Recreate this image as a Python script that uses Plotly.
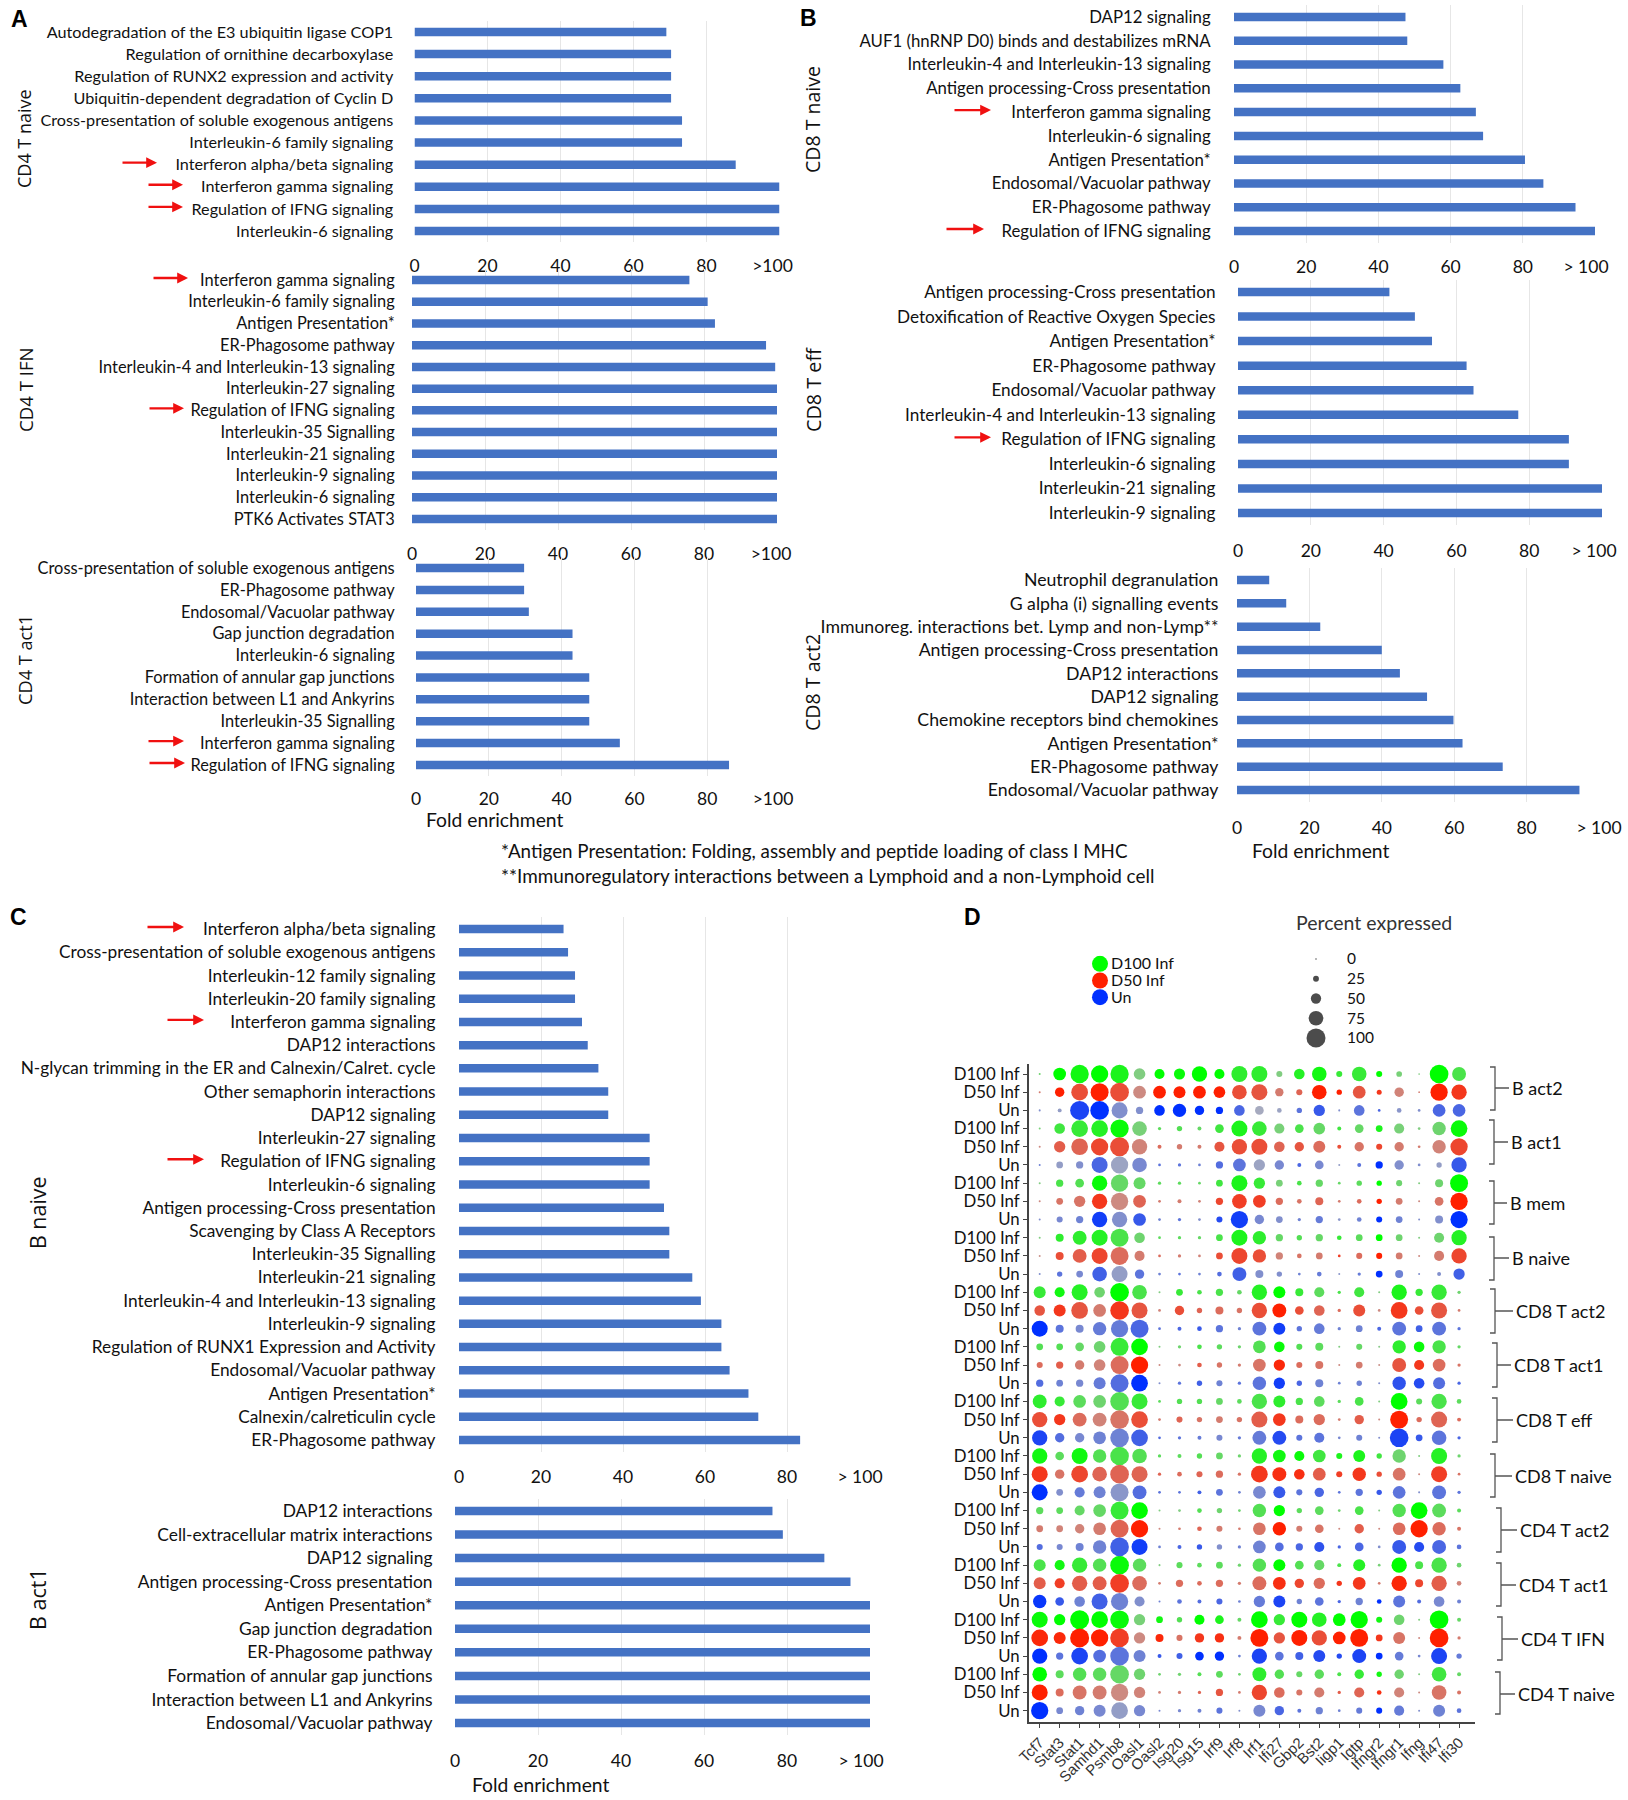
import plotly.graph_objects as go

W, H = 1628, 1800

# ---------- Bar panel data (top to bottom) ----------
a1_terms = ["Autodegradation of the E3 ubiquitin ligase COP1", "Regulation of ornithine decarboxylase", "Regulation of RUNX2 expression and activity", "Ubiquitin-dependent degradation of Cyclin D", "Cross-presentation of soluble exogenous antigens", "Interleukin-6 family signaling", "Interferon alpha/beta signaling", "Interferon gamma signaling", "Regulation of IFNG signaling", "Interleukin-6 signaling"]
a1_vals = [69, 70.3, 70.3, 70.3, 73.3, 73.3, 88, 100, 100, 100]
a2_terms = ["Interferon gamma signaling", "Interleukin-6 family signaling", "Antigen Presentation*", "ER-Phagosome pathway", "Interleukin-4 and Interleukin-13 signaling", "Interleukin-27 signaling", "Regulation of IFNG signaling", "Interleukin-35 Signalling", "Interleukin-21 signaling", "Interleukin-9 signaling", "Interleukin-6 signaling", "PTK6 Activates STAT3"]
a2_vals = [76, 81, 83, 97, 99.5, 100, 100, 100, 100, 100, 100, 100]
a3_terms = ["Cross-presentation of soluble exogenous antigens", "ER-Phagosome pathway", "Endosomal/Vacuolar pathway", "Gap junction degradation", "Interleukin-6 signaling", "Formation of annular gap junctions", "Interaction between L1 and Ankyrins", "Interleukin-35 Signalling", "Interferon gamma signaling", "Regulation of IFNG signaling"]
a3_vals = [29.7, 29.7, 31, 43, 43, 47.6, 47.6, 47.6, 56, 86]
b1_terms = ["DAP12 signaling", "AUF1 (hnRNP D0) binds and destabilizes mRNA", "Interleukin-4 and Interleukin-13 signaling", "Antigen processing-Cross presentation", "Interferon gamma signaling", "Interleukin-6 signaling", "Antigen Presentation*", "Endosomal/Vacuolar pathway", "ER-Phagosome pathway", "Regulation of IFNG signaling"]
b1_vals = [47.5, 48, 58, 62.7, 67, 69, 80.6, 85.7, 94.6, 100]
b2_terms = ["Antigen processing-Cross presentation", "Detoxification of Reactive Oxygen Species", "Antigen Presentation*", "ER-Phagosome pathway", "Endosomal/Vacuolar pathway", "Interleukin-4 and Interleukin-13 signaling", "Regulation of IFNG signaling", "Interleukin-6 signaling", "Interleukin-21 signaling", "Interleukin-9 signaling"]
b2_vals = [41.6, 48.6, 53.3, 62.8, 64.7, 77, 90.9, 90.9, 100, 100]
b3_terms = ["Neutrophil degranulation", "G alpha (i) signalling events", "Immunoreg. interactions bet. Lymp and non-Lymp**", "Antigen processing-Cross presentation", "DAP12 interactions", "DAP12 signaling", "Chemokine receptors bind chemokines", "Antigen Presentation*", "ER-Phagosome pathway", "Endosomal/Vacuolar pathway"]
b3_vals = [8.9, 13.6, 23, 40, 45, 52.5, 59.8, 62.3, 73.4, 94.6]
c1_terms = ["Interferon alpha/beta signaling", "Cross-presentation of soluble exogenous antigens", "Interleukin-12 family signaling", "Interleukin-20 family signaling", "Interferon gamma signaling", "DAP12 interactions", "N-glycan trimming in the ER and Calnexin/Calret. cycle", "Other semaphorin interactions", "DAP12 signaling", "Interleukin-27 signaling", "Regulation of IFNG signaling", "Interleukin-6 signaling", "Antigen processing-Cross presentation", "Scavenging by Class A Receptors", "Interleukin-35 Signalling", "Interleukin-21 signaling", "Interleukin-4 and Interleukin-13 signaling", "Interleukin-9 signaling", "Regulation of RUNX1 Expression and Activity", "Endosomal/Vacuolar pathway", "Antigen Presentation*", "Calnexin/calreticulin cycle", "ER-Phagosome pathway"]
c1_vals = [25.5, 26.6, 28.3, 28.3, 30, 31.4, 34, 36.4, 36.4, 46.5, 46.5, 46.5, 50, 51.3, 51.3, 56.9, 59, 64, 64, 66, 70.6, 73, 83.2]
c2_terms = ["DAP12 interactions", "Cell-extracellular matrix interactions", "DAP12 signaling", "Antigen processing-Cross presentation", "Antigen Presentation*", "Gap junction degradation", "ER-Phagosome pathway", "Formation of annular gap junctions", "Interaction between L1 and Ankyrins", "Endosomal/Vacuolar pathway"]
c2_vals = [76.5, 79, 89, 95.3, 100, 100, 100, 100, 100, 100]
fold_ticks = [0, 20, 40, 60, 80, 100]

# ---------- Dot plot data ----------
genes = ["Tcf7", "Stat3", "Stat1", "Samhd1", "Psmb8", "Oasl1", "Oasl2", "Isg20", "Isg15", "Irf9", "Irf8", "Irf1", "Ifi27", "Gbp2", "Bst2", "Iigp1", "Igtp", "Ifngr2", "Ifngr1", "Ifng", "Ifi47", "Ifi30"]
cell_types = ["B act2", "B act1", "B mem", "B naive", "CD8 T act2", "CD8 T act1", "CD8 T eff", "CD8 T naive", "CD4 T act2", "CD4 T act1", "CD4 T IFN", "CD4 T naive"]
conditions = ["D100 Inf", "D50 Inf", "Un"]
pct_ticks = [0, 25, 50, 75, 100]

# percent expressed (p) and scaled colour level (t) per row
p_b_act2_d100 = [3,64,96,90,96,58,49,55,79,49,83,83,26,52,75,26,75,26,24,1,98,71]
t_b_act2_d100 = [40,100,90,100,85,30,100,95,100,100,75,75,30,80,90,70,70,100,35,30,100,60]
p_b_act2_d50 = [3,45,87,94,98,64,64,60,64,58,75,83,39,26,75,22,64,20,45,1,90,79]
t_b_act2_d50 = [40,100,70,100,70,30,100,100,100,100,70,65,40,55,100,100,65,85,35,40,100,85]
p_b_act2_un = [3,14,100,98,83,33,52,68,45,33,52,41,18,22,56,3,52,7,18,7,64,64]
t_b_act2_un = [30,20,85,100,30,30,100,100,100,100,60,10,15,50,70,30,50,60,25,30,60,60]

p_b_act1_d100 = [3,52,87,87,96,75,10,22,14,41,83,75,49,41,58,14,41,30,49,7,68,87]
t_b_act1_d100 = [35,65,70,80,95,35,50,55,45,65,85,70,35,60,45,65,45,85,35,30,40,95]
p_b_act1_d50 = [3,56,87,90,100,79,14,22,14,49,79,83,52,45,60,14,45,26,45,7,68,90]
t_b_act1_d50 = [30,60,55,75,70,35,50,40,40,65,70,70,55,65,50,70,45,75,40,40,35,75]
p_b_act1_un = [3,30,33,83,90,75,7,10,7,33,64,56,45,14,41,3,14,33,45,7,22,79]
t_b_act1_un = [40,20,30,60,15,35,50,50,40,55,50,15,35,60,35,20,50,100,30,30,20,70]

p_b_mem_d100 = [3,33,41,79,90,60,10,10,7,30,83,56,30,18,33,7,22,22,26,3,37,94]
t_b_mem_d100 = [30,60,55,95,45,45,50,50,45,65,85,70,35,60,45,45,50,100,40,30,40,100]
p_b_mem_d50 = [3,30,56,79,90,64,7,14,7,33,75,64,33,18,37,7,18,22,30,3,41,90]
t_b_mem_d50 = [30,45,45,85,30,55,40,40,35,75,80,80,50,45,55,40,50,100,40,30,45,100]
p_b_mem_un = [3,26,33,79,79,64,7,10,7,26,90,45,30,10,33,7,18,26,30,3,37,90]
t_b_mem_un = [30,35,40,90,30,70,40,50,30,80,90,35,30,40,45,25,40,100,40,30,30,100]

p_b_naive_d100 = [3,37,71,83,94,52,7,10,10,30,83,68,33,22,33,18,30,30,30,3,49,79]
t_b_naive_d100 = [30,75,75,80,60,40,50,50,45,60,85,75,45,55,45,70,50,100,40,30,40,80]
p_b_naive_d50 = [3,37,71,83,94,49,7,10,7,30,83,68,33,18,30,7,26,26,30,3,49,79]
t_b_naive_d50 = [25,70,60,75,50,40,50,40,35,70,75,70,35,45,40,80,50,100,40,30,40,75]
p_b_naive_un = [3,22,30,75,83,45,7,7,7,18,71,37,22,7,18,3,10,30,37,3,14,56]
t_b_naive_un = [30,50,35,65,20,50,40,50,40,55,65,30,30,40,45,25,45,100,40,30,30,65]

p_cd8_act2_d100 = [60,49,83,52,98,75,3,30,18,33,18,79,60,37,49,10,49,3,79,33,79,10]
t_cd8_act2_d100 = [70,90,80,40,100,60,30,70,60,60,45,80,100,70,50,60,65,30,85,70,70,40]
p_cd8_act2_d50 = [52,60,87,64,98,83,7,45,22,37,22,79,71,41,52,10,60,7,87,41,83,7]
t_cd8_act2_d50 = [65,85,65,40,85,65,35,70,55,50,45,70,100,70,55,50,70,30,85,70,65,40]
p_cd8_act2_un = [83,37,37,68,90,94,7,14,18,33,10,71,60,22,52,10,30,14,71,30,71,10]
t_cd8_act2_un = [100,50,35,45,45,60,50,60,70,50,40,50,90,50,45,40,40,60,50,65,50,50]

p_cd8_act1_d100 = [30,30,41,58,94,87,3,10,18,22,10,64,52,26,37,3,26,3,68,52,68,10]
t_cd8_act1_d100 = [55,55,45,40,70,100,30,40,60,50,40,55,95,55,50,30,45,25,75,95,60,45]
p_cd8_act1_d50 = [26,33,45,58,94,90,3,7,18,22,10,64,56,26,37,3,30,3,71,49,64,10]
t_cd8_act1_d50 = [50,60,40,35,50,100,30,30,60,45,40,45,95,50,45,30,40,25,65,85,50,45]
p_cd8_act1_un = [33,30,33,60,94,87,3,10,22,26,10,68,56,22,37,7,22,3,68,52,60,10]
t_cd8_act1_un = [55,40,35,45,55,100,30,50,65,40,50,50,90,60,40,40,40,30,75,80,55,60]

p_cd8_eff_d100 = [71,49,64,64,98,83,7,22,22,30,18,79,60,33,52,10,41,3,87,26,79,18]
t_cd8_eff_d100 = [75,70,50,40,55,70,50,55,55,45,50,60,75,60,50,50,60,30,100,50,60,50]
p_cd8_eff_d50 = [79,56,71,71,98,87,7,26,22,30,22,83,64,37,56,7,45,3,94,22,83,14]
t_cd8_eff_d50 = [70,85,50,35,45,70,40,55,45,40,45,60,85,50,50,40,60,30,100,50,55,50]
p_cd8_eff_un = [79,45,45,64,98,87,7,10,14,26,10,71,71,26,49,7,26,3,98,30,75,10]
t_cd8_eff_un = [85,55,35,40,40,65,55,50,45,35,45,45,80,50,50,35,40,30,85,70,50,60]

p_cd8_naive_d100 = [79,41,83,68,98,75,10,14,22,30,10,79,64,49,64,26,60,22,68,3,83,10]
t_cd8_naive_d100 = [90,50,90,55,60,55,50,50,55,45,40,80,90,95,65,85,85,65,40,30,80,40]
p_cd8_naive_d50 = [83,45,87,75,98,83,10,18,26,33,10,87,71,52,64,26,68,22,64,3,83,7]
t_cd8_naive_d50 = [85,45,75,55,55,55,55,50,55,50,45,85,90,90,60,80,85,70,45,30,80,45]
p_cd8_naive_un = [83,30,49,60,94,71,7,7,14,30,7,64,60,26,45,7,33,22,64,3,71,10]
t_cd8_naive_un = [100,30,45,40,25,55,50,50,65,50,40,35,70,50,60,50,50,70,50,30,50,50]

p_cd4_act2_d100 = [33,30,49,64,94,87,3,7,18,22,7,68,56,22,41,7,41,3,68,87,71,14]
t_cd4_act2_d100 = [50,50,45,45,70,100,30,30,55,40,40,55,100,50,50,40,60,30,55,100,50,50]
p_cd4_act2_d50 = [30,30,45,64,94,90,3,7,18,26,7,64,68,26,41,3,45,3,64,90,68,14]
t_cd4_act2_d50 = [40,35,35,40,55,100,30,40,55,40,40,45,100,40,45,30,60,30,50,100,50,45]
p_cd4_act2_un = [26,26,37,68,98,83,7,14,22,22,10,64,41,33,49,10,41,7,71,49,71,18]
t_cd4_act2_un = [55,35,40,40,65,90,40,60,70,30,40,40,55,60,75,60,60,30,70,80,60,50]

p_cd4_act1_d100 = [60,49,79,68,98,68,3,26,18,30,10,68,60,41,49,14,60,7,79,37,79,18]
t_cd4_act1_d100 = [60,90,70,55,95,50,30,50,50,50,40,55,100,55,45,60,80,35,100,60,60,40]
p_cd4_act1_d50 = [60,49,79,71,98,75,7,33,18,33,10,71,64,45,56,22,64,7,79,37,79,18]
t_cd4_act1_d50 = [60,80,60,60,80,50,40,50,50,50,40,50,90,75,50,85,85,40,95,75,60,35]
p_cd4_act1_un = [68,41,52,83,90,49,3,18,14,26,7,56,60,22,41,10,33,18,60,14,52,14]
t_cd4_act1_un = [95,70,40,65,40,30,40,50,55,60,40,45,85,40,50,60,40,100,50,55,35,40]

p_cd4_ifn_d100 = [83,56,100,87,98,56,30,22,49,41,14,87,56,83,75,64,90,26,52,3,98,14]
t_cd4_ifn_d100 = [95,100,100,100,95,35,90,55,100,85,45,100,70,100,80,100,100,90,40,30,100,45]
p_cd4_ifn_d50 = [87,60,100,90,98,56,37,26,45,45,14,94,56,83,79,64,94,30,60,3,98,10]
t_cd4_ifn_d50 = [95,95,100,100,80,30,95,45,85,90,40,100,65,100,70,100,100,85,45,30,100,40]
p_cd4_ifn_un = [79,33,87,64,98,60,14,26,41,45,7,79,41,37,60,22,71,30,41,7,83,22]
t_cd4_ifn_un = [100,50,85,55,50,40,70,65,100,100,40,85,50,65,80,80,85,100,45,35,85,45]

p_cd4_naive_d100 = [75,37,68,68,98,56,7,10,14,30,7,71,45,26,45,14,45,22,45,3,75,14]
t_cd4_naive_d100 = [100,50,55,50,45,40,40,40,55,50,40,75,55,45,50,60,70,90,40,30,65,45]
p_cd4_naive_d50 = [83,37,71,71,90,56,7,10,10,33,7,79,52,26,49,10,49,18,49,3,75,14]
t_cd4_naive_d50 = [100,50,45,40,30,35,35,40,55,65,40,75,50,45,40,60,55,90,35,30,45,45]
p_cd4_naive_un = [90,30,45,60,87,56,3,10,14,26,3,60,45,14,33,7,26,26,49,3,60,18]
t_cd4_naive_un = [100,35,40,35,20,35,35,35,40,50,30,35,60,50,40,40,45,100,45,30,40,50]

p_d100 = [p_b_act2_d100, p_b_act1_d100, p_b_mem_d100, p_b_naive_d100, p_cd8_act2_d100, p_cd8_act1_d100, p_cd8_eff_d100, p_cd8_naive_d100, p_cd4_act2_d100, p_cd4_act1_d100, p_cd4_ifn_d100, p_cd4_naive_d100]
t_d100 = [t_b_act2_d100, t_b_act1_d100, t_b_mem_d100, t_b_naive_d100, t_cd8_act2_d100, t_cd8_act1_d100, t_cd8_eff_d100, t_cd8_naive_d100, t_cd4_act2_d100, t_cd4_act1_d100, t_cd4_ifn_d100, t_cd4_naive_d100]
p_d50 = [p_b_act2_d50, p_b_act1_d50, p_b_mem_d50, p_b_naive_d50, p_cd8_act2_d50, p_cd8_act1_d50, p_cd8_eff_d50, p_cd8_naive_d50, p_cd4_act2_d50, p_cd4_act1_d50, p_cd4_ifn_d50, p_cd4_naive_d50]
t_d50 = [t_b_act2_d50, t_b_act1_d50, t_b_mem_d50, t_b_naive_d50, t_cd8_act2_d50, t_cd8_act1_d50, t_cd8_eff_d50, t_cd8_naive_d50, t_cd4_act2_d50, t_cd4_act1_d50, t_cd4_ifn_d50, t_cd4_naive_d50]
p_un = [p_b_act2_un, p_b_act1_un, p_b_mem_un, p_b_naive_un, p_cd8_act2_un, p_cd8_act1_un, p_cd8_eff_un, p_cd8_naive_un, p_cd4_act2_un, p_cd4_act1_un, p_cd4_ifn_un, p_cd4_naive_un]
t_un = [t_b_act2_un, t_b_act1_un, t_b_mem_un, t_b_naive_un, t_cd8_act2_un, t_cd8_act1_un, t_cd8_eff_un, t_cd8_naive_un, t_cd4_act2_un, t_cd4_act1_un, t_cd4_ifn_un, t_cd4_naive_un]

# ---------- Styling ----------
TXT = "Lato"
TXT_C = "#111111"
BAR = "#4472C4"
GRID = "#e6e6e6"
GREEN, RED, BLUE = "#00ff00", "#ff2000", "#0030ff"
LOW = "#b8b8b8"


def fx(px):
    return px / W


def fy(py):
    return 1 - py / H


fig = go.Figure()
layout = {}
annotations = []
shapes = []
axis_no = [0]


def new_axes():
    axis_no[0] += 1
    n = axis_no[0]
    suf = "" if n == 1 else str(n)
    return f"x{suf}", f"y{suf}", f"xaxis{suf}", f"yaxis{suf}"


def note(text, x, y, size=17, family=TXT, color=TXT_C, xanchor="center", angle=0, bold=False):
    if bold:
        text = f"<b>{text}</b>"
    annotations.append(dict(text=text, x=fx(x), y=fy(y), xref="paper", yref="paper", showarrow=False,
                            xanchor=xanchor, yanchor="middle", textangle=angle,
                            font=dict(size=size, family=family, color=color)))


def bar_panel(terms, vals, x0, x100, y_first, y_last, tick_y, gap, tick_text=">100", last_shift=0, arrows=(), thick=8.5, font=16.4):
    xa, ya, xk, yk = new_axes()
    n = len(terms)
    step = (y_last - y_first) / (n - 1)
    top, bottom = y_first - step / 2, y_last + step / 2
    fig.add_trace(go.Bar(x=vals, y=terms, orientation="h", xaxis=xa, yaxis=ya, marker=dict(color=BAR, line=dict(width=0)),
                         width=thick / step, showlegend=False, hoverinfo="skip"))
    # the last label sits a little left of its gridline in the reference
    label_pos = fold_ticks[:-1] + [fold_ticks[-1] - last_shift / (x100 - x0) * 100]
    layout[xk] = dict(domain=[fx(x0), fx(x100)], range=[0, 100], anchor=ya, tickmode="array", tickvals=label_pos,
                      ticktext=[str(v) for v in fold_ticks[:-1]] + [tick_text], showgrid=False,
                      minor=dict(tickvals=fold_ticks, showgrid=True, gridcolor=GRID, gridwidth=1, ticks=""),
                      zeroline=False, showline=False, ticks="outside", ticklen=max(tick_y - bottom - 15, 0),
                      tickcolor="rgba(0,0,0,0)", tickfont=dict(size=17.5, family=TXT, color=TXT_C), automargin=False,
                      ticklabeloverflow="allow")
    layout[yk] = dict(domain=[fy(bottom), fy(top)], type="category", range=[n - 0.5, -0.5], anchor=xa, showgrid=False,
                      zeroline=False, showline=False, ticks="outside", ticklen=max(gap - 3, 0), tickcolor="rgba(0,0,0,0)",
                      tickmode="array", tickvals=terms, ticktext=terms, ticklabeloverflow="allow",
                      tickfont=dict(size=font, family=TXT, color=TXT_C), automargin=False)
    for term, a0, a1 in arrows:
        annotations.append(dict(text="", x=fx(a1), y=term, xref="paper", yref=ya, ax=-(a1 - a0), ay=0,
                                axref="pixel", ayref="pixel", yshift=2, showarrow=True, arrowhead=2, arrowsize=0.9,
                                arrowwidth=2.4, arrowcolor="#f01010", standoff=0))


IFG, REG, ALPHA = "Interferon gamma signaling", "Regulation of IFNG signaling", "Interferon alpha/beta signaling"
bar_panel(a1_terms, a1_vals, 414.5, 779.5, 32, 231, 265, 20, ">100", 7,
          [(ALPHA, 121, 157), (IFG, 147, 183), (REG, 147, 183)], font=16.2)
bar_panel(a2_terms, a2_vals, 412, 777, 280, 519, 553, 16, ">100", 6, [(IFG, 152, 188), (REG, 148, 184)], font=16.4)
bar_panel(a3_terms, a3_vals, 416, 780, 568, 765, 798, 20, ">100", 7, [(IFG, 147, 184), (REG, 148, 185)], font=16.4)
bar_panel(b1_terms, b1_vals, 1234, 1595, 17, 231, 266, 22, "> 100", 9, [(IFG, 953, 991), (REG, 945, 984)], font=16.8)
bar_panel(b2_terms, b2_vals, 1238, 1602, 292, 513, 550, 21, "> 100", 8, [(REG, 953, 991)], font=17.2)
bar_panel(b3_terms, b3_vals, 1237, 1599, 580, 790, 827, 17, "> 100", 0, font=17.7)
bar_panel(c1_terms, c1_vals, 459, 869, 929, 1440, 1476, 22, "> 100", 9,
          [(ALPHA, 146, 184), (IFG, 166, 204), (REG, 166, 204)], font=17.3)
bar_panel(c2_terms, c2_vals, 455, 870, 1511, 1723, 1760, 21, "> 100", 9, font=17.4)

# ---------- Panel D dot plot ----------
COL0, COLSTEP = 1039.7, 19.97
ROW0, ROWSTEP = 1074.0, 18.19
D_L, D_R, D_T, D_B = 1029.0, 1475.0, 1064.0, 1722.0


def dot_size(p):
    return 1.5 + 0.175 * p


xa, ya, xk, yk = new_axes()
row_labels = []
for g in range(len(cell_types)):
    row_labels += conditions

series = [(p_d100, t_d100, GREEN, 0), (p_d50, t_d50, RED, 1), (p_un, t_un, BLUE, 2)]
for P, T, col, off in series:
    xs, ys, ss, cs = [], [], [], []
    for g, (prow, trow) in enumerate(zip(P, T)):
        for j, (p, t) in enumerate(zip(prow, trow)):
            xs.append(j)
            ys.append(g * 3 + off)
            ss.append(dot_size(p))
            cs.append(t)
    fig.add_trace(go.Scatter(x=xs, y=ys, mode="markers", xaxis=xa, yaxis=ya, showlegend=False, hoverinfo="skip",
                             marker=dict(size=ss, sizemode="diameter", color=cs, cmin=0, cmax=100,
                                         colorscale=[[0, LOW], [1, col]], line=dict(width=0), showscale=False, opacity=1)))

layout[xk] = dict(domain=[fx(D_L), fx(D_R)], range=[(D_L - COL0) / COLSTEP, (D_R - COL0) / COLSTEP], anchor=ya,
                  tickmode="array", tickvals=list(range(len(genes))), ticktext=genes, tickangle=-45,
                  tickfont=dict(size=15, family="Liberation Sans", color="#333333"), showgrid=False, zeroline=False,
                  showline=True, linecolor="#444444", linewidth=2, ticks="outside", ticklen=4, tickcolor="#444444", automargin=False)
layout[yk] = dict(domain=[fy(D_B), fy(D_T)], range=[(D_B - ROW0) / ROWSTEP, (D_T - ROW0) / ROWSTEP], anchor=xa,
                  tickmode="array", tickvals=list(range(len(row_labels))), ticktext=row_labels,
                  tickfont=dict(size=16.8, family=TXT, color=TXT_C), showgrid=False, zeroline=False,
                  showline=True, linecolor="#444444", linewidth=2, ticks="outside", ticklen=4, tickcolor="#444444", automargin=False)

# size legend
xa, ya, xk, yk = new_axes()
fig.add_trace(go.Scatter(x=[0] * len(pct_ticks), y=pct_ticks, mode="markers", xaxis=xa, yaxis=ya, showlegend=False,
                         hoverinfo="skip", marker=dict(size=[dot_size(p) for p in pct_ticks], color="#000000", line=dict(width=0))))
L_TOP, L_BOT = 949.0, 1048.0
pp = (1038 - 959) / 100
layout[xk] = dict(domain=[fx(1306), fx(1326)], range=[-1, 1], anchor=ya, visible=False, automargin=False)
layout[yk] = dict(domain=[fy(L_BOT), fy(L_TOP)], range=[(L_BOT - 959) / pp, (L_TOP - 959) / pp], anchor=xa, side="right",
                  tickmode="array", tickvals=pct_ticks, showgrid=False, zeroline=False, showline=False, ticks="outside",
                  ticklen=17, tickcolor="rgba(0,0,0,0)", tickfont=dict(size=15.5, family=TXT, color=TXT_C), automargin=False)

# colour legend
xa, ya, xk, yk = new_axes()
fig.add_trace(go.Scatter(x=[0, 0, 0], y=conditions, mode="markers", xaxis=xa, yaxis=ya, showlegend=False, hoverinfo="skip",
                         marker=dict(size=16, color=[GREEN, RED, BLUE], line=dict(width=0))))
layout[xk] = dict(domain=[fx(1090), fx(1110)], range=[-1, 1], anchor=ya, visible=False, automargin=False)
layout[yk] = dict(domain=[fy(1005.5), fy(955.5)], type="category", range=[2.5, -0.5], anchor=xa, side="right",
                  tickmode="array", tickvals=conditions, ticktext=conditions, automargin=False,
                  showgrid=False, zeroline=False, showline=False, ticks="", tickfont=dict(size=16, family=TXT, color=TXT_C))

# brackets
brackets = [
    ("B act2", 1490, 1067, 1110, 1088, 1510), ("B act1", 1489, 1120, 1164, 1142, 1509),
    ("B mem", 1489, 1181, 1224, 1203, 1508), ("B naive", 1489, 1237, 1280, 1258, 1510),
    ("CD8 T act2", 1490, 1289, 1333, 1311, 1514), ("CD8 T act1", 1492, 1343, 1387, 1365, 1512),
    ("CD8 T eff", 1492, 1398, 1442, 1420, 1514), ("CD8 T naive", 1490, 1454, 1497, 1476, 1513),
    ("CD4 T act2", 1496, 1508, 1552, 1530, 1518), ("CD4 T act1", 1496, 1563, 1606, 1585, 1517),
    ("CD4 T IFN", 1497, 1617, 1660, 1639, 1519), ("CD4 T naive", 1495, 1672, 1714, 1694, 1516),
]
for name, bx, t, b, m, lx in brackets:
    v = bx + 5
    path = (f"M {fx(bx)} {fy(t)} L {fx(v)} {fy(t)} L {fx(v)} {fy(b)} L {fx(bx)} {fy(b)} "
            f"M {fx(v)} {fy(m)} L {fx(lx - 1)} {fy(m)}")
    shapes.append(dict(type="path", xref="paper", yref="paper", path=path, line=dict(color="#555555", width=1.3)))
    note(name, lx, m, size=18, xanchor="left")

# ---------- Text ----------
for letter, x, y in [("A", 19, 19), ("B", 808, 18), ("C", 18, 917), ("D", 972, 917)]:
    note(letter, x, y, size=23, family="Liberation Sans", color="#000000", bold=True)
for label, x, y, s in [("CD4 T naive", 24, 139, 18), ("CD4 T IFN", 25, 390, 18.6), ("CD4 T act1", 25, 660, 18.2),
                       ("CD8 T naive", 813, 120, 19.5), ("CD8 T eff", 813, 390, 19.8), ("CD8 T act2", 812, 683, 19.6),
                       ("B naive", 37, 1213, 21.4), ("B act1", 37, 1599, 21.5)]:
    note(label, x, y, size=s, family="Open Sans", angle=-90)
for x, y in [(494, 820), (1320, 850), (540, 1784)]:
    note("Fold enrichment", x, y, size=19.3)
note("*Antigen Presentation: Folding, assembly and peptide loading of class I MHC", 499, 851, size=18.8, xanchor="left")
note("**Immunoregulatory interactions between a Lymphoid and a non-Lymphoid cell", 499, 875, size=18.9, xanchor="left")
note("Percent expressed", 1294, 922, size=19.5, color="#333333", xanchor="left")

fig.update_layout(width=W, height=H, margin=dict(l=0, r=0, t=0, b=0, autoexpand=False), paper_bgcolor="white", plot_bgcolor="white",
                  showlegend=False, annotations=annotations, shapes=shapes, **layout)
fig.write_html("out.html", post_script="document.body.style.margin='0';", config={"displayModeBar": False})
